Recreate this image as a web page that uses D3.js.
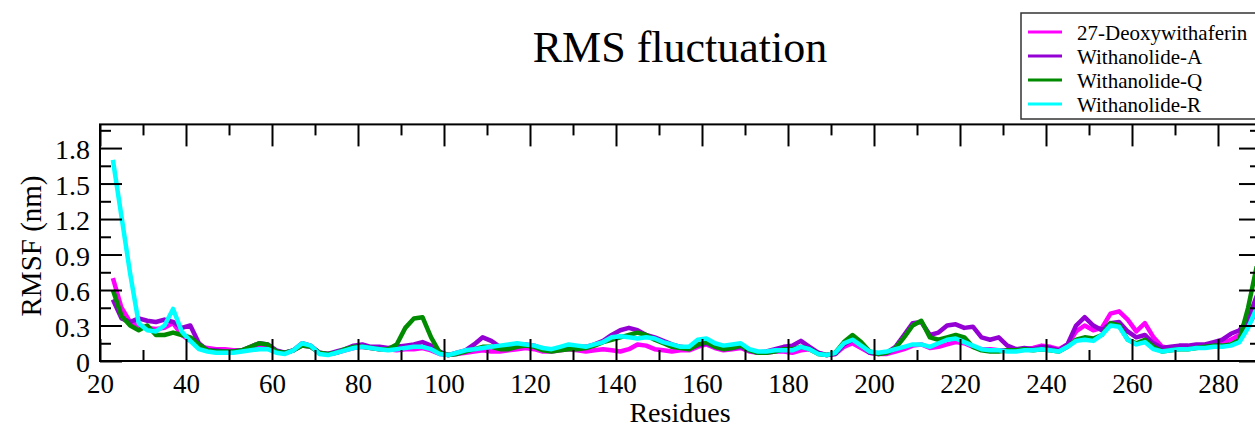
<!DOCTYPE html>
<html>
<head>
<meta charset="utf-8">
<script src="https://cdn.jsdelivr.net/npm/d3@7"></script>
<style>
  body { margin: 0; background: #fff; }
  svg text { font-family: "Liberation Serif", "DejaVu Serif", serif; fill: #000; }
</style>
</head>
<body>
<svg id="chart" width="1255" height="427"></svg>
<script>
// residue numbers (x) shared by all four sets
const residues = [
  23, 25, 27, 29, 31, 33, 35, 37, 39, 41, 43, 45, 47, 49, 51, 53, 55, 57, 59, 61,
  63, 65, 67, 69, 71, 73, 75, 77, 79, 81, 83, 85, 87, 89, 91, 93, 95, 97, 99, 101,
  103, 105, 107, 109, 111, 113, 115, 117, 119, 121, 123, 125, 127, 129, 131, 133, 135, 137, 139, 141,
  143, 145, 147, 149, 151, 153, 155, 157, 159, 161, 163, 165, 167, 169, 171, 173, 175, 177, 179, 181,
  183, 185, 187, 189, 191, 193, 195, 197, 199, 201, 203, 205, 207, 209, 211, 213, 215, 217, 219, 221,
  223, 225, 227, 229, 231, 233, 235, 237, 239, 241, 243, 245, 247, 249, 251, 253, 255, 257, 259, 261,
  263, 265, 267, 269, 271, 273, 275, 277, 279, 281, 283, 285, 287, 289
];

const deoxywithaferin = [
  0.70, 0.45, 0.33, 0.30, 0.28, 0.27, 0.28, 0.32, 0.22, 0.17, 0.12, 0.11, 0.10, 0.10, 0.09, 0.09, 0.10, 0.12, 0.12, 0.08,
  0.07, 0.09, 0.13, 0.12, 0.07, 0.06, 0.07, 0.09, 0.11, 0.12, 0.11, 0.10, 0.10, 0.09, 0.10, 0.10, 0.11, 0.09, 0.06, 0.05,
  0.06, 0.07, 0.08, 0.09, 0.08, 0.08, 0.09, 0.10, 0.11, 0.10, 0.08, 0.08, 0.09, 0.10, 0.09, 0.08, 0.09, 0.10, 0.09, 0.08,
  0.10, 0.14, 0.13, 0.10, 0.09, 0.08, 0.09, 0.09, 0.12, 0.14, 0.11, 0.09, 0.10, 0.11, 0.08, 0.07, 0.07, 0.08, 0.08, 0.07,
  0.09, 0.10, 0.07, 0.05, 0.06, 0.12, 0.15, 0.11, 0.07, 0.06, 0.06, 0.08, 0.10, 0.13, 0.14, 0.11, 0.12, 0.14, 0.16, 0.15,
  0.12, 0.10, 0.10, 0.09, 0.09, 0.10, 0.10, 0.11, 0.13, 0.12, 0.10, 0.14, 0.25, 0.30, 0.26, 0.28, 0.40, 0.42, 0.35, 0.25,
  0.32, 0.20, 0.12, 0.11, 0.11, 0.12, 0.12, 0.12, 0.13, 0.15, 0.18, 0.22, 0.30, 0.42
];

const withanolideA = [
  0.52, 0.36, 0.33, 0.36, 0.34, 0.33, 0.35, 0.33, 0.28, 0.30, 0.15, 0.09, 0.09, 0.08, 0.08, 0.09, 0.12, 0.15, 0.14, 0.09,
  0.07, 0.09, 0.15, 0.13, 0.07, 0.06, 0.08, 0.10, 0.13, 0.14, 0.12, 0.12, 0.11, 0.12, 0.13, 0.14, 0.16, 0.13, 0.08, 0.05,
  0.07, 0.09, 0.14, 0.20, 0.17, 0.12, 0.11, 0.13, 0.14, 0.13, 0.10, 0.09, 0.10, 0.11, 0.12, 0.12, 0.14, 0.17, 0.22, 0.26,
  0.28, 0.26, 0.22, 0.20, 0.17, 0.14, 0.12, 0.11, 0.13, 0.15, 0.12, 0.10, 0.11, 0.12, 0.09, 0.07, 0.08, 0.10, 0.12, 0.13,
  0.17, 0.12, 0.07, 0.05, 0.06, 0.14, 0.18, 0.13, 0.07, 0.06, 0.07, 0.12, 0.22, 0.32, 0.33, 0.22, 0.24, 0.30, 0.31, 0.28,
  0.29, 0.20, 0.18, 0.20, 0.13, 0.10, 0.11, 0.10, 0.12, 0.11, 0.09, 0.14, 0.30, 0.37, 0.30, 0.26, 0.32, 0.33, 0.25, 0.20,
  0.22, 0.15, 0.11, 0.12, 0.13, 0.13, 0.14, 0.14, 0.16, 0.18, 0.23, 0.26, 0.35, 0.55
];

const withanolideQ = [
  0.60, 0.38, 0.30, 0.26, 0.30, 0.22, 0.22, 0.24, 0.22, 0.20, 0.14, 0.09, 0.08, 0.08, 0.08, 0.09, 0.12, 0.15, 0.14, 0.08,
  0.07, 0.09, 0.13, 0.12, 0.07, 0.06, 0.07, 0.10, 0.12, 0.12, 0.11, 0.10, 0.10, 0.14, 0.28, 0.36, 0.37, 0.20, 0.07, 0.05,
  0.06, 0.08, 0.10, 0.12, 0.12, 0.10, 0.10, 0.12, 0.13, 0.12, 0.09, 0.08, 0.09, 0.10, 0.10, 0.11, 0.13, 0.16, 0.18, 0.20,
  0.22, 0.24, 0.22, 0.18, 0.15, 0.12, 0.11, 0.10, 0.14, 0.16, 0.12, 0.10, 0.11, 0.13, 0.09, 0.07, 0.07, 0.08, 0.10, 0.10,
  0.12, 0.10, 0.06, 0.05, 0.07, 0.16, 0.22, 0.16, 0.08, 0.06, 0.07, 0.11, 0.20, 0.30, 0.34, 0.20, 0.18, 0.20, 0.22, 0.20,
  0.12, 0.09, 0.08, 0.08, 0.09, 0.09, 0.10, 0.09, 0.10, 0.09, 0.08, 0.12, 0.18, 0.20, 0.19, 0.22, 0.32, 0.30, 0.18, 0.15,
  0.18, 0.12, 0.08, 0.09, 0.10, 0.10, 0.11, 0.12, 0.13, 0.13, 0.14, 0.18, 0.45, 0.80
];

const withanolideR = [
  1.70, 1.22, 0.74, 0.32, 0.26, 0.25, 0.30, 0.44, 0.25, 0.17, 0.10, 0.08, 0.07, 0.07, 0.07, 0.08, 0.09, 0.10, 0.10, 0.07,
  0.06, 0.09, 0.15, 0.13, 0.06, 0.05, 0.07, 0.09, 0.11, 0.12, 0.11, 0.10, 0.09, 0.10, 0.11, 0.12, 0.12, 0.10, 0.06, 0.05,
  0.07, 0.09, 0.10, 0.11, 0.12, 0.13, 0.14, 0.15, 0.14, 0.13, 0.11, 0.10, 0.12, 0.14, 0.13, 0.12, 0.14, 0.16, 0.20, 0.21,
  0.20, 0.19, 0.20, 0.19, 0.16, 0.14, 0.12, 0.12, 0.18, 0.19, 0.15, 0.13, 0.14, 0.15, 0.10, 0.08, 0.08, 0.09, 0.09, 0.09,
  0.12, 0.10, 0.06, 0.05, 0.07, 0.15, 0.18, 0.13, 0.08, 0.07, 0.08, 0.10, 0.12, 0.14, 0.14, 0.12, 0.15, 0.18, 0.19, 0.16,
  0.13, 0.10, 0.09, 0.09, 0.08, 0.08, 0.09, 0.09, 0.10, 0.09, 0.08, 0.12, 0.17, 0.18, 0.17, 0.22, 0.30, 0.29, 0.18, 0.14,
  0.16, 0.10, 0.08, 0.09, 0.10, 0.10, 0.11, 0.11, 0.12, 0.12, 0.13, 0.16, 0.28, 0.45
];

const seriesNames = ["27-Deoxywithaferin", "Withanolide-A", "Withanolide-Q", "Withanolide-R"];
const seriesValues = [deoxywithaferin, withanolideA, withanolideQ, withanolideR];
const seriesColors = ["#ff00ff", "#9400d3", "#008b00", "#00ffff"];

const xMajorTicks = [20, 40, 60, 80, 100, 120, 140, 160, 180, 200, 220, 240, 260, 280];
const xMinorTicks = [30, 50, 70, 90, 110, 130, 150, 170, 190, 210, 230, 250, 270, 290];
const yMajorTicks = [0, 0.3, 0.6, 0.9, 1.2, 1.5, 1.8];
const yMinorTicks = [0.15, 0.45, 0.75, 1.05, 1.35, 1.65, 1.95];

const serif = '"Liberation Serif", "DejaVu Serif", serif';

const svg = d3.select("#chart");
svg.append("rect").attr("width", 1255).attr("height", 427).attr("fill", "#fff");

const x = d3.scaleLinear().domain([20, 290]).range([100, 1261]);
const y = d3.scaleLinear().domain([0, 2]).range([361, 124.4]);

const [x0, x1] = x.range();
const [y0, y1] = y.range();

// data lines first, frame and ticks on top
const line = d3
  .line()
  .x((d) => x(d[0]))
  .y((d) => y(d[1]));

svg
  .append("g")
  .selectAll("path")
  .data(seriesValues)
  .join("path")
  .attr("d", (values) => line(residues.map((r, i) => [r, values[i]])))
  .attr("fill", "none")
  .attr("stroke", (d, i) => seriesColors[i])
  .attr("stroke-width", 4.5)
  .attr("stroke-linejoin", "round");

function styleAxis(g) {
  g.attr("font-family", serif);
  g.selectAll(".domain").remove();
  g.selectAll(".tick line").attr("stroke", "#000").attr("stroke-width", 2);
}

const labelFont = 27;

// bottom
svg
  .append("g")
  .attr("transform", `translate(0,${y0})`)
  .call(
    d3.axisBottom(x).tickValues(xMajorTicks).tickSize(-22).tickSizeOuter(0).tickPadding(13)
  )
  .call(styleAxis)
  .call((g) => g.selectAll("text").attr("font-size", labelFont).style("font-family", serif));
svg
  .append("g")
  .attr("transform", `translate(0,${y0})`)
  .call(d3.axisBottom(x).tickValues(xMinorTicks).tickSize(-11).tickFormat(""))
  .call(styleAxis);

// top
svg
  .append("g")
  .attr("transform", `translate(0,${y1})`)
  .call(d3.axisTop(x).tickValues(xMajorTicks).tickSize(-22).tickFormat(""))
  .call(styleAxis);
svg
  .append("g")
  .attr("transform", `translate(0,${y1})`)
  .call(d3.axisTop(x).tickValues(xMinorTicks).tickSize(-11).tickFormat(""))
  .call(styleAxis);

// left
svg
  .append("g")
  .attr("transform", `translate(${x0},0)`)
  .call(
    d3
      .axisLeft(y)
      .tickValues(yMajorTicks)
      .tickSize(-22)
      .tickPadding(10)
      .tickFormat((d) => (d === 0 ? "0" : d.toFixed(1)))
  )
  .call(styleAxis)
  .call((g) =>
    g
      .selectAll("text")
      .attr("font-size", 28)
      .style("font-family", serif)
      .attr("dy", "0.38em")
  );
svg
  .append("g")
  .attr("transform", `translate(${x0},0)`)
  .call(d3.axisLeft(y).tickValues(yMinorTicks).tickSize(-11).tickFormat(""))
  .call(styleAxis);

// right
svg
  .append("g")
  .attr("transform", `translate(${x1},0)`)
  .call(d3.axisRight(y).tickValues(yMajorTicks).tickSize(-22).tickFormat(""))
  .call(styleAxis);
svg
  .append("g")
  .attr("transform", `translate(${x1},0)`)
  .call(d3.axisRight(y).tickValues(yMinorTicks).tickSize(-11).tickFormat(""))
  .call(styleAxis);

// frame
svg
  .append("rect")
  .attr("x", x0)
  .attr("y", y1)
  .attr("width", x1 - x0)
  .attr("height", y0 - y1)
  .attr("fill", "none")
  .attr("stroke", "#000")
  .attr("stroke-width", 2);

// titles
svg
  .append("text")
  .attr("x", 680)
  .attr("y", 62)
  .attr("text-anchor", "middle")
  .attr("font-size", 44)
  .style("font-family", serif)
  .text("RMS fluctuation");

svg
  .append("text")
  .attr("x", 680)
  .attr("y", 422)
  .attr("text-anchor", "middle")
  .attr("font-size", 28)
  .style("font-family", serif)
  .text("Residues");

svg
  .append("text")
  .attr("transform", "translate(41,246) rotate(-90)")
  .attr("text-anchor", "middle")
  .attr("font-size", 29)
  .style("font-family", serif)
  .text("RMSF (nm)");

// legend
const legend = svg.append("g").attr("transform", "translate(1021,13)");
legend
  .append("rect")
  .attr("width", 240)
  .attr("height", 106)
  .attr("fill", "#fff")
  .attr("stroke", "#333")
  .attr("stroke-width", 1.5);

const legendRows = legend
  .selectAll("g.row")
  .data(seriesNames)
  .join("g")
  .attr("class", "row")
  .attr("transform", (d, i) => `translate(0,${19 + i * 24})`);

legendRows
  .append("line")
  .attr("x1", 7)
  .attr("x2", 41)
  .attr("stroke", (d, i) => seriesColors[i])
  .attr("stroke-width", 3);

legendRows
  .append("text")
  .attr("x", 56)
  .attr("y", 8)
  .attr("font-size", 21)
  .style("font-family", serif)
  .text((d) => d);
</script>
</body>
</html>
